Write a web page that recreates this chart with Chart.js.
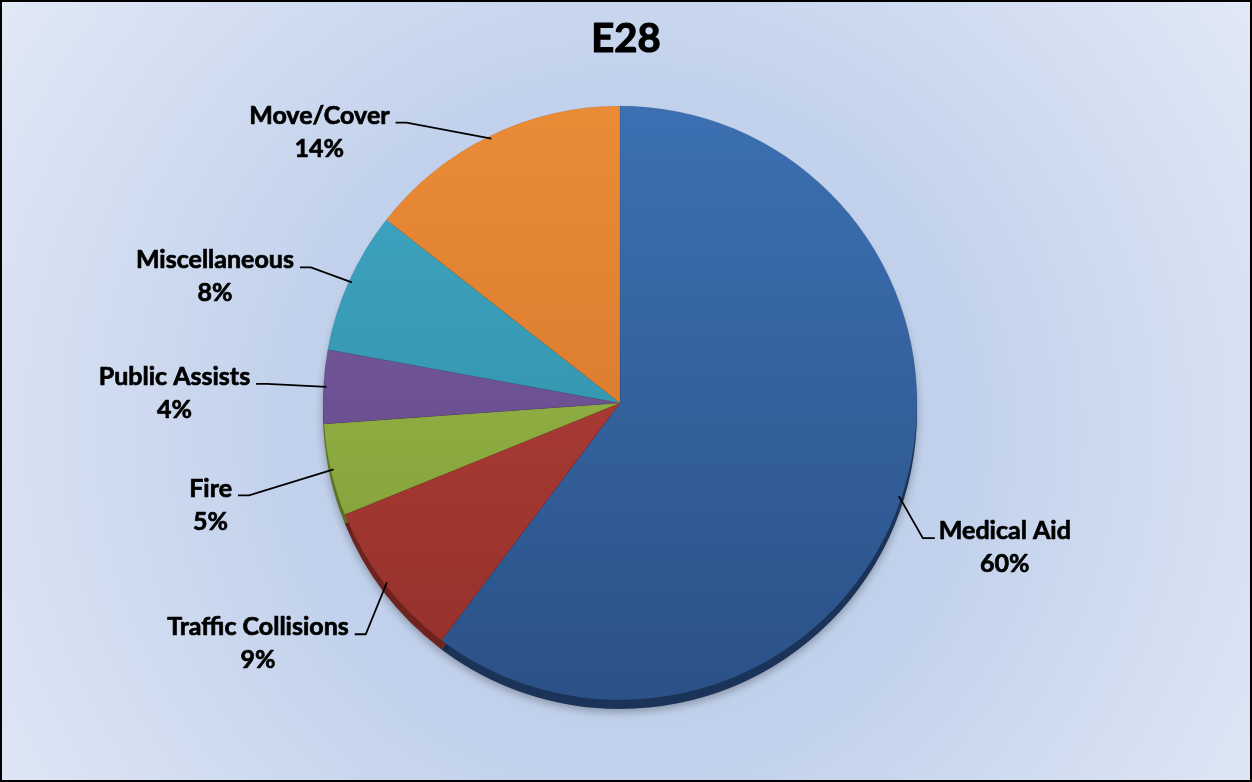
<!DOCTYPE html>
<html><head><meta charset="utf-8">
<script src="https://cdn.jsdelivr.net/npm/chart.js@4.4.1/dist/chart.umd.min.js"></script>
<style>html,body{margin:0;padding:0;background:#fff}#wrap{width:1252px;height:782px;position:relative}</style>
</head><body><div id="wrap"><canvas id="c"></canvas></div>
<script>
const chartTitle = 'E28';
const categories = ['Medical Aid', 'Traffic Collisions', 'Fire', 'Public Assists', 'Miscellaneous', 'Move/Cover'];
const shares = [60.2, 8.6, 5.0, 4.0, 7.7, 14.4];
const topColors = ['#3c70b2', '#bb423c', '#9cbd4b', '#7b60a5', '#40a7c4', '#ea8b36'];
const bottomColors = ['#2b5187', '#93302a', '#7e9b37', '#5e4480', '#2d889f', '#cf7229'];
const rimColors = ['#1b3358', '#6e231f', '#5b7027', '#432f5c', '#1f6272', '#9c5219'];
// offset of each label's first text line centre from its slice anchor point
const labelOffsets = [[106, 35], [-129, 45], [-123, 19], [-152, -10], [-137, -22], [-172, -23]];

const total = shares.reduce((a, b) => a + b, 0);
const percentLabels = shares.map(v => Math.round(v / total * 100) + '%');

const LABEL_FONT = 'bold 25px Lato, "Open Sans", sans-serif';

function sliceFill(ctx) {
  const chart = ctx.chart;
  const area = chart.chartArea;
  const i = ctx.dataIndex;
  if (!area) return topColors[i];
  const g = chart.ctx.createLinearGradient(0, area.top, 0, area.bottom);
  g.addColorStop(0, topColors[i]);
  g.addColorStop(1, bottomColors[i]);
  return g;
}

function boldText(ctx, text, x, y, extra) {
  ctx.lineWidth = extra;
  ctx.strokeStyle = '#000';
  ctx.lineJoin = 'round';
  ctx.strokeText(text, x, y);
  ctx.fillText(text, x, y);
}

const bgPlugin = {
  id: 'bg',
  beforeDraw(chart) {
    const { ctx, width, height } = chart;
    ctx.save();
    const g = ctx.createRadialGradient(626, 430, 0, 626, 430, 780);
    g.addColorStop(0, '#b5c8e8');
    g.addColorStop(0.45, '#c3d2ec');
    g.addColorStop(1, '#e3eaf6');
    ctx.fillStyle = g;
    ctx.fillRect(0, 0, width, height);
    ctx.restore();
  },
  afterDraw(chart) {
    const { ctx, width, height } = chart;
    ctx.save();
    ctx.strokeStyle = '#000';
    ctx.lineWidth = 2;
    ctx.strokeRect(1, 1, width - 2, height - 2);
    ctx.fillStyle = '#000';
    ctx.font = 'bold 40px Lato, "Open Sans", sans-serif';
    ctx.textAlign = 'center';
    ctx.textBaseline = 'middle';
    boldText(ctx, chartTitle, 626, 39, 1.2);
    ctx.restore();
  }
};

const rimPlugin = {
  id: 'rim',
  beforeDatasetsDraw(chart) {
    const meta = chart.getDatasetMeta(0);
    const ctx = chart.ctx;
    ctx.save();
    meta.data.forEach((arc, i) => {
      const p = arc.getProps(['x', 'y', 'startAngle', 'endAngle', 'outerRadius'], true);
      ctx.beginPath();
      ctx.moveTo(p.x, p.y + 9);
      ctx.arc(p.x, p.y + 9, p.outerRadius, p.startAngle, p.endAngle);
      ctx.closePath();
      ctx.fillStyle = rimColors[i];
      ctx.shadowColor = 'rgba(0,0,0,0.3)';
      ctx.shadowBlur = 8;
      ctx.shadowOffsetY = 3;
      ctx.fill();
    });
    ctx.restore();
  }
};

const labelPlugin = {
  id: 'sliceLabels',
  afterDatasetsDraw(chart) {
    const meta = chart.getDatasetMeta(0);
    const ctx = chart.ctx;
    ctx.save();
    ctx.font = LABEL_FONT;
    ctx.textAlign = 'center';
    ctx.textBaseline = 'middle';
    meta.data.forEach((arc, i) => {
      const p = arc.getProps(['x', 'y', 'startAngle', 'endAngle', 'outerRadius'], true);
      const mid = (p.startAngle + p.endAngle) / 2;
      const ax = p.x + Math.cos(mid) * (p.outerRadius - 3);
      const ay = p.y + Math.sin(mid) * (p.outerRadius - 3);
      const tx = ax + labelOffsets[i][0];
      const ty = ay + labelOffsets[i][1];
      const w = ctx.measureText(categories[i]).width;
      ctx.beginPath();
      if (labelOffsets[i][0] > 0) {
        ctx.moveTo(ax, ay);
        ctx.lineTo(tx - w / 2 - 16, ty + 7);
        ctx.lineTo(tx - w / 2 - 4, ty + 7);
      } else {
        ctx.moveTo(tx + w / 2 + 6, ty + 7);
        ctx.lineTo(tx + w / 2 + 17, ty + 7);
        ctx.lineTo(ax, ay);
      }
      ctx.strokeStyle = '#000';
      ctx.lineWidth = 1.8;
      ctx.lineJoin = 'miter';
      ctx.stroke();
      ctx.fillStyle = '#000';
      boldText(ctx, categories[i], tx, ty, 0.7);
      boldText(ctx, percentLabels[i], tx, ty + 33, 0.7);
    });
    ctx.restore();
  }
};

new Chart(document.getElementById('c'), {
  type: 'pie',
  data: {
    labels: categories,
    datasets: [{
      data: shares,
      backgroundColor: sliceFill,
      borderColor: 'rgba(0,0,0,0.12)',
      borderWidth: 0.6
    }]
  },
  options: {
    responsive: true,
    maintainAspectRatio: false,
    animation: false,
    radius: 297,
    layout: { padding: { top: 106, bottom: 82, left: 320, right: 332 } },
    plugins: { legend: { display: false }, tooltip: { enabled: false }, title: { display: false } }
  },
  plugins: [bgPlugin, rimPlugin, labelPlugin]
});
</script>
</body></html>
